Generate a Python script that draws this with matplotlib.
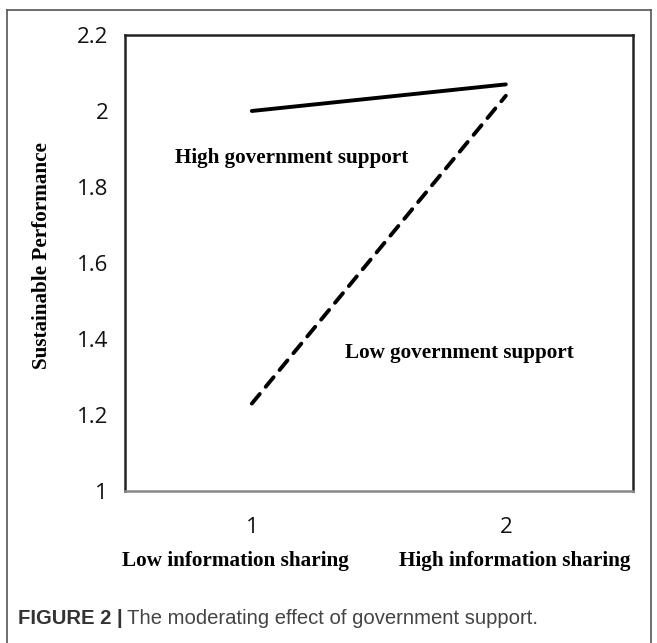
import matplotlib
matplotlib.use("Agg")
import matplotlib.pyplot as plt
from matplotlib.lines import Line2D

# simple slopes plot: info sharing vs sustainable performance
x_levels = [1, 2]
high_support = [2.00, 2.07]
low_support = [1.23, 2.04]
y_ticks = [1, 1.2, 1.4, 1.6, 1.8, 2, 2.2]
y_tick_labels = ["1", "1.2", "1.4", "1.6", "1.8", "2", "2.2"]

fig = plt.figure(figsize=(6.57, 6.43), dpi=100)
ax = fig.add_axes([0.190, 0.2364, 0.7732, 0.7092])

ax.plot(x_levels, high_support, color="black", lw=2.8, solid_capstyle="round")
ax.plot(x_levels, low_support, color="black", lw=2.8, linestyle=(0, (3.2, 2.4)),
        dash_capstyle="round")

ax.set_xlim(0.5, 2.5)
ax.set_ylim(1, 2.2)
ax.set_xticks(x_levels)
ax.set_xticklabels(["1", "2"])
ax.set_yticks(y_ticks)
ax.set_yticklabels(y_tick_labels)
ax.tick_params(length=0, labelsize=16, colors="#111111")
ax.tick_params(axis="x", pad=19)
ax.tick_params(axis="y", pad=12)
for lbl in ax.get_xticklabels() + ax.get_yticklabels():
    lbl.set_family("Open Sans")

for s in ["left", "top", "right"]:
    ax.spines[s].set_linewidth(1.8)
    ax.spines[s].set_color("#222222")
ax.spines["bottom"].set_linewidth(1.8)
ax.spines["bottom"].set_color("#888888")

serif = "Liberation Serif"
ax.text(0.697, 1.876, "High government support", fontsize=15.2, fontweight="bold",
        family=serif, va="center", ha="left")
ax.text(1.366, 1.363, "Low government support", fontsize=15.2, fontweight="bold",
        family=serif, va="center", ha="left")

fig.text(0.064, 1 - 256 / 643, "Sustainable Performance", rotation=90, fontsize=15.2,
         fontweight="bold", family=serif, ha="center", va="center")
fig.text(0.359, 1 - 561 / 643, "Low information sharing", fontsize=15.3,
         fontweight="bold", family=serif, ha="center", va="center")
fig.text(0.783, 1 - 561 / 643, "High information sharing", fontsize=15.3,
         fontweight="bold", family=serif, ha="center", va="center")

# caption
cap_y = 1 - 619 / 643
t = fig.text(0.028, cap_y, "FIGURE 2 |", fontsize=14.6, fontweight="bold",
             family="Liberation Sans", color="#333333", va="center")
fig.canvas.draw()
bb = t.get_window_extent()
fig.text(bb.x1 / fig.bbox.width + 0.006, cap_y, "The moderating effect of government support.",
         fontsize=14.6, family="Liberation Sans", color="#444444", va="center")

# outer frame (open at the bottom)
fx0, fx1, fy1 = 7 / 657, 651 / 657, 1 - 10 / 643
frame_kw = dict(color="#555555", lw=1.2, transform=fig.transFigure)
fig.add_artist(Line2D([fx0, fx0], [0, fy1], **frame_kw))
fig.add_artist(Line2D([fx0, fx1], [fy1, fy1], **frame_kw))
fig.add_artist(Line2D([fx1, fx1], [0, fy1], **frame_kw))

fig.savefig("out.png", dpi=100)
